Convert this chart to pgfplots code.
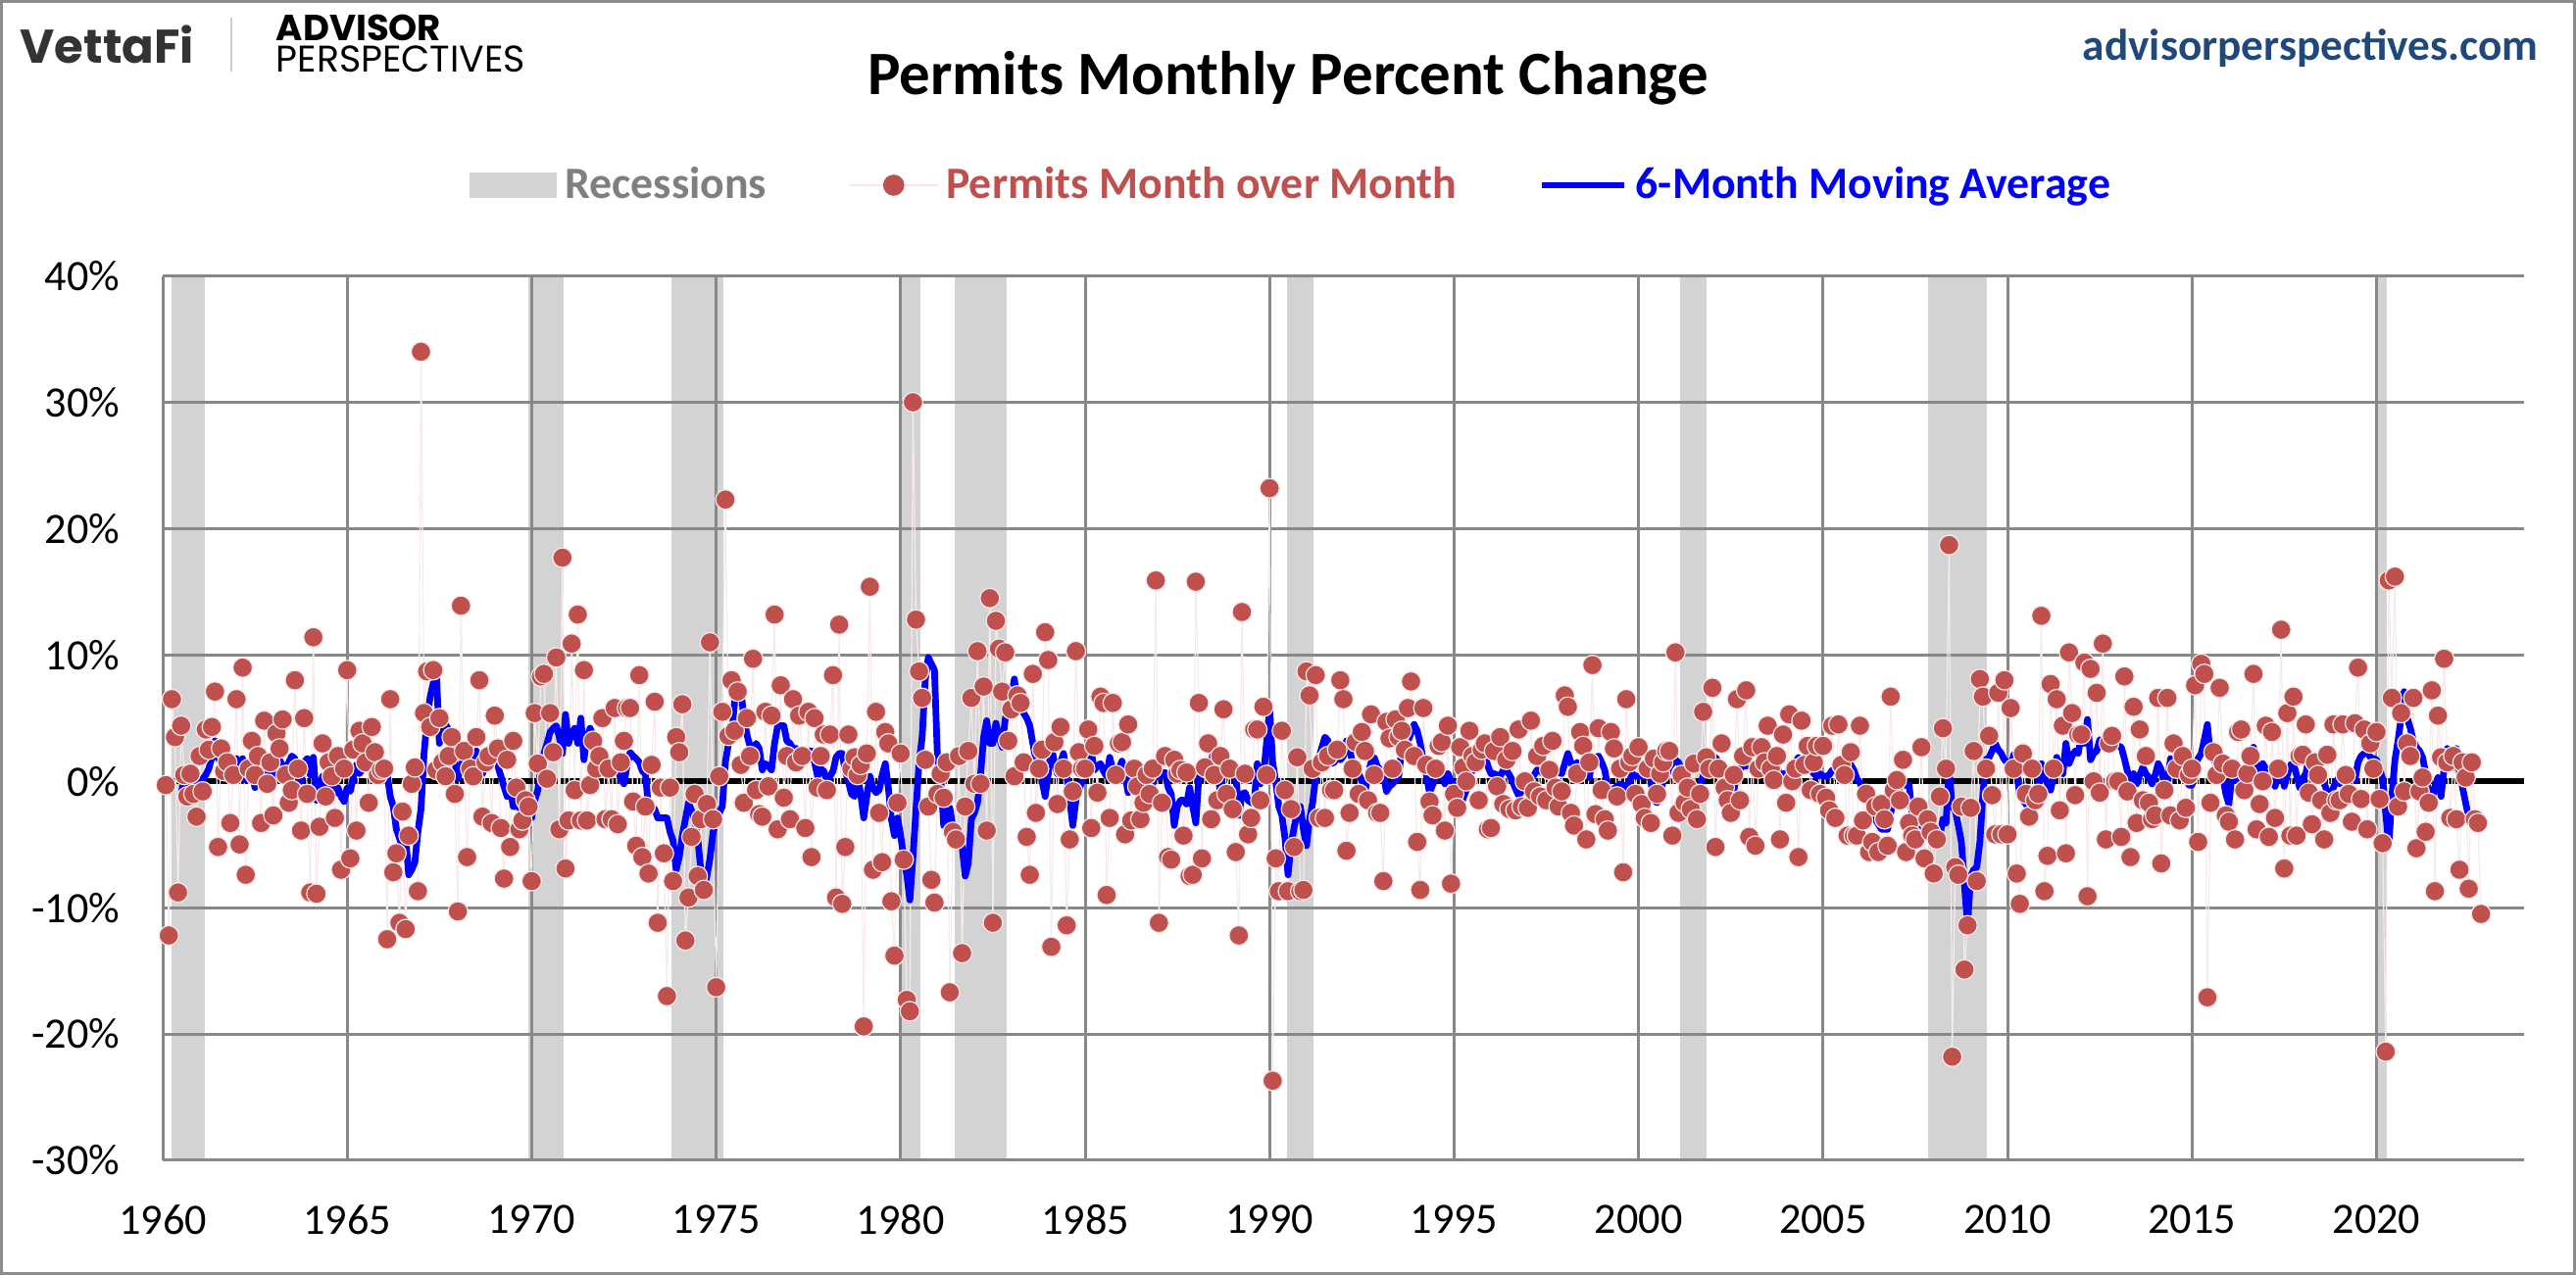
\documentclass[border=0pt]{standalone}
\usepackage{pgfplots}
\pgfplotsset{compat=1.18}
\usepackage{pgfplotstable}
\usepackage{fontspec}
\setmainfont{Carlito}
\newfontfamily\logofont{Poppins}
\usetikzlibrary{calc}

\definecolor{recgray}{HTML}{D3D3D3}
\definecolor{gridgray}{HTML}{888888}
\definecolor{dotred}{HTML}{C0504D}
\definecolor{mablue}{HTML}{0000FF}
\definecolor{urlblue}{HTML}{1F497D}
\definecolor{framegray}{HTML}{8C8C8C}
\definecolor{legray}{HTML}{7F7F7F}
\definecolor{logogray}{HTML}{333333}

% monthly percent change, Feb 1960 - Nov 2022 (one line per year)
\pgfplotstableread[row sep=\\]{
v\\
-0.3\\ -12.2\\ 6.5\\ 3.5\\ -8.8\\ 4.4\\ 0.5\\ -1.2\\ 0.6\\ -1.0\\ -2.8\\
2.0\\ -0.8\\ 4.1\\ 2.5\\ 4.3\\ 7.1\\ -5.2\\ 2.6\\ 0.8\\ 1.5\\ -3.3\\ 0.5\\
6.5\\ -5.0\\ 9.0\\ -7.4\\ 1.0\\ 3.2\\ 0.5\\ 2.0\\ -3.3\\ 4.8\\ -0.2\\ 1.5\\
-2.7\\ 3.8\\ 2.6\\ 4.9\\ 0.5\\ -1.7\\ -0.7\\ 8.0\\ 1.0\\ -3.9\\ 5.0\\ -1.0\\
-8.8\\ 11.4\\ -8.9\\ -3.6\\ 3.0\\ -1.2\\ 1.5\\ 0.4\\ -2.9\\ 2.0\\ -7.0\\ 1.0\\
8.8\\ -6.1\\ 2.5\\ -3.9\\ 4.0\\ 3.0\\ 1.5\\ -1.7\\ 4.3\\ 2.3\\ 0.5\\ 0.9\\
1.0\\ -12.5\\ 6.5\\ -7.2\\ -5.7\\ -11.2\\ -2.4\\ -11.7\\ -4.3\\ -0.2\\ 1.1\\ -8.7\\
34.0\\ 5.4\\ 8.7\\ 4.3\\ 8.8\\ 0.9\\ 5.0\\ 1.5\\ 0.4\\ 2.0\\ 3.5\\ -1.0\\
-10.3\\ 13.9\\ 2.4\\ -6.0\\ 1.0\\ 0.4\\ 3.5\\ 8.0\\ -2.8\\ 1.5\\ 2.0\\ -3.3\\
5.2\\ 2.6\\ -3.7\\ -7.7\\ 1.7\\ -5.2\\ 3.2\\ -0.5\\ -3.8\\ -3.1\\ -1.5\\ -2.0\\
-7.9\\ 5.4\\ 1.4\\ 8.3\\ 8.5\\ 0.2\\ 5.4\\ 2.3\\ 9.8\\ -3.8\\ 17.7\\ -6.9\\
-3.1\\ 10.9\\ -0.7\\ 13.2\\ -3.1\\ 8.8\\ -3.1\\ -0.3\\ 3.2\\ 1.0\\ 2.0\\ 5.0\\
-3.0\\ 1.0\\ -3.0\\ 5.8\\ -3.4\\ 1.5\\ 3.2\\ 5.8\\ 5.8\\ -1.6\\ -5.1\\ 8.4\\
-6.0\\ -2.0\\ -7.3\\ 1.3\\ 6.3\\ -11.2\\ -0.5\\ -5.7\\ -17.0\\ -0.5\\ -7.9\\ 3.5\\
2.3\\ 6.1\\ -12.6\\ -9.2\\ -4.4\\ -1.0\\ -7.5\\ -3.0\\ -8.6\\ -1.8\\ 11.0\\ -3.0\\
-16.3\\ 0.4\\ 5.5\\ 22.3\\ 3.6\\ 8.0\\ 4.0\\ 7.1\\ 1.3\\ -1.7\\ 5.0\\ 2.0\\
9.7\\ -0.7\\ -2.6\\ -2.8\\ 5.5\\ -0.4\\ 5.2\\ 13.2\\ -3.8\\ 7.6\\ -1.3\\ 2.0\\
-3.0\\ 6.5\\ 1.5\\ 5.2\\ 2.0\\ -3.7\\ 5.5\\ -6.0\\ 5.0\\ -0.5\\ 2.0\\ 3.7\\
-0.7\\ 3.7\\ 8.4\\ -9.2\\ 12.4\\ -9.7\\ -5.2\\ 3.7\\ 1.0\\ 1.9\\ 0.5\\ 1.3\\
-19.4\\ 2.2\\ 15.4\\ -7.0\\ 5.5\\ -2.5\\ -6.4\\ 3.9\\ 3.0\\ -9.5\\ -13.8\\ -1.7\\
2.2\\ -6.2\\ -17.3\\ -18.2\\ 30.0\\ 12.8\\ 8.7\\ 6.6\\ 1.7\\ -2.0\\ -7.8\\ -9.6\\
-1.0\\ 0.6\\ -1.3\\ 1.5\\ -16.7\\ -4.0\\ -4.6\\ 2.0\\ -13.6\\ -2.0\\ 2.4\\ 6.6\\
-0.2\\ 10.3\\ -0.2\\ 7.5\\ -3.9\\ 14.5\\ -11.2\\ 12.7\\ 10.5\\ 7.1\\ 10.2\\ 3.2\\
5.7\\ 0.4\\ 6.8\\ 6.2\\ 1.5\\ -4.4\\ -7.4\\ 8.5\\ -2.5\\ 1.0\\ 2.5\\ 11.8\\
9.6\\ -13.1\\ 3.1\\ -1.8\\ 4.3\\ 1.0\\ -11.4\\ -4.6\\ -0.8\\ 10.3\\ 2.3\\ 1.0\\
1.0\\ 4.1\\ -3.7\\ 2.8\\ -0.9\\ 6.7\\ 6.2\\ -9.0\\ -2.9\\ 6.2\\ 0.5\\ 3.0\\
3.1\\ -4.2\\ 4.5\\ -3.1\\ 1.0\\ -0.4\\ -3.0\\ -1.7\\ 0.5\\ -1.0\\ 1.0\\ 15.9\\
-11.2\\ -1.7\\ 2.0\\ -6.0\\ -6.2\\ 1.7\\ 0.6\\ 0.9\\ -4.3\\ 0.7\\ -7.5\\ -7.4\\
15.8\\ 6.2\\ -6.1\\ 1.1\\ 3.0\\ -3.0\\ 0.5\\ -1.5\\ 2.0\\ 5.7\\ -1.0\\ 1.0\\
-2.2\\ -5.6\\ -12.2\\ 13.4\\ 0.6\\ -4.2\\ -2.9\\ 4.1\\ 4.1\\ -1.5\\ 5.9\\ 0.5\\
23.2\\ -23.7\\ -6.1\\ -8.7\\ 4.0\\ -0.7\\ -8.7\\ -2.2\\ -5.2\\ 1.9\\ -8.7\\ -8.6\\
8.7\\ 6.8\\ 1.0\\ 8.4\\ -2.9\\ 1.5\\ -2.9\\ 2.0\\ -0.7\\ -0.7\\ 2.5\\ 8.0\\
6.5\\ -5.5\\ -2.5\\ 1.0\\ 3.1\\ -1.0\\ 3.9\\ 2.4\\ -1.5\\ 5.3\\ 0.5\\ -2.5\\
-2.5\\ -7.9\\ 4.7\\ 3.4\\ 1.0\\ 4.9\\ 3.5\\ 4.0\\ 2.5\\ 5.8\\ 7.9\\ 2.0\\
-4.8\\ -8.6\\ 5.8\\ 1.3\\ -1.6\\ -2.7\\ 1.0\\ 2.8\\ 3.1\\ -3.9\\ 4.4\\ -8.1\\
-1.0\\ -2.1\\ 2.7\\ 1.1\\ 0.0\\ 4.0\\ 2.0\\ 1.5\\ -1.5\\ 2.5\\ 3.0\\ -3.8\\
-3.7\\ 2.4\\ -0.4\\ 3.5\\ -1.8\\ 1.7\\ -2.2\\ 2.4\\ -2.3\\ 4.1\\ -2.0\\ 0.0\\
-2.1\\ 4.8\\ -0.8\\ 2.0\\ -1.2\\ 2.8\\ -1.5\\ 0.9\\ 3.2\\ -0.5\\ -2.0\\ -0.8\\
6.8\\ 5.9\\ -2.5\\ -3.5\\ 0.6\\ 3.9\\ 2.8\\ -4.6\\ 1.5\\ 9.2\\ -2.6\\ 4.2\\
-0.7\\ -3.0\\ -3.9\\ 3.9\\ 2.6\\ -1.2\\ 1.0\\ -7.2\\ 6.5\\ 1.5\\ 2.0\\ -1.0\\
2.7\\ -1.8\\ -2.9\\ 1.0\\ -3.3\\ 1.8\\ -1.0\\ 0.6\\ 1.5\\ 2.4\\ 2.4\\ -4.3\\
10.2\\ -2.5\\ 0.5\\ -1.7\\ -0.5\\ -2.2\\ 1.4\\ -3.0\\ -1.0\\ 5.5\\ 1.9\\ 1.0\\
7.4\\ -5.2\\ 1.0\\ 3.0\\ -0.5\\ -1.5\\ -2.5\\ 0.5\\ 6.5\\ -1.5\\ 2.0\\ 7.2\\
-4.4\\ 2.7\\ -5.1\\ 1.0\\ 2.7\\ 1.5\\ 4.4\\ 1.0\\ 0.1\\ 2.0\\ -4.6\\ 3.7\\
-1.7\\ 5.3\\ 0.0\\ 1.0\\ -6.0\\ 4.8\\ 1.3\\ 2.8\\ -0.7\\ 1.5\\ 2.8\\ -1.0\\
2.8\\ -1.3\\ -2.3\\ 4.4\\ -2.9\\ 4.5\\ 1.3\\ 0.5\\ -4.3\\ 2.3\\ -4.3\\ -4.3\\
4.4\\ -3.1\\ -1.0\\ -5.6\\ -4.8\\ -2.0\\ -5.6\\ -1.8\\ -3.0\\ -5.1\\ 6.7\\ -0.7\\
0.1\\ -1.5\\ 1.7\\ -5.6\\ -3.3\\ -4.3\\ -4.6\\ -2.0\\ 2.7\\ -6.1\\ -3.0\\ -4.0\\
-7.3\\ -4.6\\ -1.2\\ 4.2\\ 1.0\\ 18.7\\ -21.8\\ -6.8\\ -7.4\\ -2.0\\ -14.9\\ -11.4\\
-2.1\\ 2.4\\ -7.9\\ 8.1\\ 6.7\\ 1.0\\ 3.6\\ -1.1\\ -4.2\\ 7.0\\ -4.2\\ 8.0\\
-4.2\\ 5.8\\ 1.0\\ -7.3\\ -9.7\\ 2.2\\ -1.0\\ -2.8\\ 1.0\\ -1.5\\ -1.0\\ 13.1\\
-8.7\\ -5.9\\ 7.7\\ 1.0\\ 6.5\\ -2.3\\ 4.4\\ -5.7\\ 10.2\\ 5.4\\ -1.1\\ 3.7\\
3.7\\ 9.4\\ -9.1\\ 8.9\\ 0.0\\ 7.0\\ -0.9\\ 10.9\\ -4.6\\ 3.0\\ 3.6\\ 0.0\\
0.0\\ -4.4\\ 8.3\\ -0.8\\ -6.0\\ 5.9\\ -3.3\\ 4.1\\ -1.5\\ 2.0\\ -1.7\\ -3.0\\
-2.7\\ 6.6\\ -6.5\\ -0.7\\ 6.6\\ -2.7\\ 3.0\\ 1.0\\ -3.1\\ 2.0\\ -2.1\\ 0.5\\
1.0\\ 7.6\\ -4.8\\ 9.3\\ 8.5\\ -17.1\\ -1.7\\ 2.3\\ 0.5\\ 7.4\\ 1.4\\ -2.7\\
-3.2\\ 1.0\\ -4.6\\ 3.9\\ 4.1\\ -0.7\\ 0.6\\ 2.0\\ 8.5\\ -3.8\\ -1.8\\ 0.0\\
4.4\\ -4.4\\ 3.9\\ -2.9\\ 1.0\\ 12.0\\ -6.9\\ 5.4\\ -4.3\\ 6.7\\ -4.3\\ 2.0\\
2.1\\ 4.5\\ -0.9\\ -3.4\\ 1.5\\ 0.5\\ -1.5\\ -4.6\\ 2.1\\ -2.5\\ 4.5\\ -1.5\\
-1.5\\ 4.5\\ 0.5\\ -1.0\\ -3.2\\ 4.6\\ 9.0\\ -1.4\\ 4.1\\ -3.8\\ 3.0\\ 1.0\\
3.9\\ -1.4\\ -4.9\\ -21.4\\ 15.9\\ 6.6\\ 16.2\\ -2.0\\ 5.4\\ -0.8\\ 3.0\\ 2.0\\
6.6\\ -5.3\\ -0.8\\ 0.3\\ -4.0\\ -1.7\\ 7.2\\ -8.7\\ 5.2\\ 1.9\\ 9.7\\ 1.5\\
-2.9\\ 2.0\\ -3.0\\ -7.0\\ 1.5\\ 0.3\\ -8.5\\ 1.5\\ -3.0\\ -3.3\\ -10.5\\
}\permits

% 6-month moving average, Jul 1960 - Nov 2022
\pgfplotstableread[row sep=\\]{
v\\
-1.2\\ 0.6\\ -0.8\\ 0.5\\ 0.0\\ -0.5\\
-0.3\\ 0.2\\ 0.5\\ 1.0\\ 1.9\\ 3.2\\ 1.8\\ 1.9\\ 2.0\\ 1.7\\ 0.6\\ 1.0\\
1.8\\ 0.6\\ 1.8\\ 0.1\\ 1.3\\ 0.8\\ -0.5\\ 1.0\\ 0.5\\ 1.2\\ 0.8\\ 0.4\\
0.4\\ 0.8\\ 1.7\\ 1.2\\ 1.0\\ 1.5\\ 2.0\\ 1.8\\ 0.5\\ 0.0\\ 1.5\\ 1.8\\
0.5\\ 1.9\\ -1.5\\ -0.4\\ 0.4\\ -1.5\\ -0.2\\ -0.5\\ -1.0\\ -0.5\\ -1.2\\ -1.6\\
-0.5\\ -0.8\\ 0.3\\ 1.3\\ 0.6\\ 1.0\\ 1.8\\ 1.2\\ 1.0\\ 0.6\\ 0.5\\ 0.6\\
0.8\\ 0.6\\ -1.2\\ -2.0\\ -3.8\\ -4.5\\ -5.3\\ -4.3\\ -7.4\\ -7.0\\ -6.4\\ -4.0\\
-2.2\\ 2.2\\ 5.0\\ 6.7\\ 7.8\\ 8.7\\ 3.0\\ 5.3\\ 4.5\\ 4.1\\ 3.2\\ 1.5\\
0.2\\ 1.2\\ 1.9\\ 1.0\\ 0.4\\ 1.5\\ 2.4\\ 1.5\\ 0.6\\ 1.2\\ 1.9\\ 1.5\\
1.7\\ 1.2\\ 0.4\\ -0.4\\ -1.2\\ -0.5\\ -2.0\\ -2.0\\ -2.0\\ -2.7\\ -2.4\\ -2.0\\
-2.9\\ -1.5\\ -0.7\\ 1.0\\ 2.2\\ 3.0\\ 3.9\\ 4.2\\ 4.4\\ 3.5\\ 2.2\\ 5.3\\
3.0\\ 3.8\\ 4.2\\ 3.0\\ 5.0\\ 1.7\\ 3.5\\ 4.2\\ 3.6\\ 1.5\\ 0.9\\ 1.9\\
1.9\\ 1.5\\ 1.4\\ 1.0\\ 0.9\\ 0.2\\ -0.2\\ 1.2\\ 2.3\\ 2.0\\ 1.8\\ 1.5\\
0.8\\ 0.6\\ -2.2\\ -2.2\\ -2.2\\ -2.9\\ -2.9\\ -2.9\\ -2.9\\ -4.0\\ -4.7\\ -7.0\\
-6.0\\ -4.3\\ -3.0\\ -1.7\\ -2.3\\ -3.0\\ -4.5\\ -7.0\\ -8.6\\ -7.5\\ -6.1\\ -4.0\\
-3.3\\ -2.5\\ -2.0\\ 1.5\\ 3.0\\ 3.5\\ 6.3\\ 7.0\\ 7.4\\ 5.0\\ 3.7\\ 2.8\\
2.4\\ 3.0\\ 2.6\\ 0.9\\ 1.4\\ 1.2\\ 0.9\\ 3.0\\ 4.4\\ 4.4\\ 4.4\\ 3.2\\
3.0\\ 2.6\\ 2.6\\ 2.0\\ 1.7\\ 2.0\\ 2.4\\ 2.4\\ 1.5\\ 0.4\\ 1.0\\ 0.8\\
0.0\\ 0.4\\ 0.8\\ 1.9\\ 2.2\\ 2.2\\ 0.8\\ 0.0\\ -1.0\\ -1.2\\ 0.5\\ -1.0\\
-2.9\\ -1.2\\ 0.4\\ -0.5\\ -0.9\\ -0.7\\ 0.5\\ 1.4\\ -0.5\\ -3.0\\ -4.3\\ -2.9\\
-4.3\\ -6.0\\ -7.4\\ -9.4\\ -6.0\\ -2.2\\ 1.5\\ 3.5\\ 8.0\\ 9.8\\ 9.3\\ 8.8\\
1.7\\ 0.4\\ -3.5\\ -3.0\\ -2.1\\ -3.7\\ -4.0\\ -4.3\\ -5.2\\ -7.5\\ -6.5\\ -3.0\\
-2.5\\ -1.7\\ 0.5\\ 3.5\\ 4.8\\ 3.0\\ 3.0\\ 4.6\\ 3.5\\ 2.7\\ 4.9\\ 6.0\\
6.8\\ 8.1\\ 5.8\\ 5.6\\ 5.4\\ 5.0\\ 4.4\\ 3.0\\ 1.7\\ 1.4\\ 0.0\\ -1.2\\
0.6\\ 2.8\\ 1.5\\ 0.6\\ 1.5\\ 2.2\\ 0.5\\ -1.5\\ -3.5\\ -1.5\\ -0.7\\ 0.0\\
0.6\\ 1.5\\ 2.3\\ 0.9\\ 1.2\\ 1.4\\ 0.8\\ 0.4\\ 1.9\\ 0.9\\ 0.0\\ 1.0\\
1.6\\ 0.5\\ -0.9\\ -0.2\\ 1.1\\ 0.0\\ -0.4\\ -0.4\\ -0.9\\ -1.5\\ -0.2\\ 1.1\\
0.3\\ 0.6\\ 0.7\\ -0.5\\ -1.0\\ -3.5\\ -2.0\\ -1.5\\ -1.5\\ -1.8\\ -0.5\\ -2.0\\
-3.3\\ 0.4\\ 0.6\\ 0.6\\ 0.5\\ 1.5\\ 2.7\\ 1.0\\ -0.9\\ 1.2\\ 0.6\\ 0.6\\
0.5\\ 0.4\\ -2.7\\ -1.0\\ -0.9\\ -1.5\\ -1.7\\ -1.7\\ 1.4\\ -0.2\\ 0.4\\ 3.0\\
5.8\\ 1.5\\ 0.0\\ -2.0\\ -2.7\\ -4.5\\ -7.4\\ -5.0\\ -3.6\\ -2.5\\ -2.0\\ -3.8\\
-5.1\\ -3.0\\ -1.7\\ 0.4\\ 1.8\\ 2.7\\ 3.5\\ 3.2\\ 1.4\\ 1.5\\ 1.9\\ 1.7\\
2.0\\ 3.2\\ 2.5\\ 1.5\\ 0.8\\ 0.6\\ 0.0\\ -0.9\\ 0.5\\ 1.5\\ 1.9\\ 1.2\\
0.9\\ 0.6\\ -0.8\\ -0.4\\ -0.2\\ 0.1\\ 0.4\\ 2.7\\ 2.9\\ 3.2\\ 3.8\\ 4.5\\
4.0\\ 3.0\\ 1.6\\ 0.5\\ -0.9\\ -0.3\\ 0.2\\ 1.4\\ 0.5\\ -0.2\\ 0.6\\ 0.0\\
-0.2\\ -1.2\\ -2.2\\ -1.3\\ -0.7\\ 0.3\\ 0.9\\ 2.0\\ 2.4\\ 2.3\\ 2.2\\ 1.2\\
0.6\\ 0.6\\ 0.5\\ 0.4\\ 0.9\\ 0.9\\ 0.5\\ 0.0\\ -0.6\\ -1.1\\ -0.8\\ -0.5\\
-0.5\\ 0.2\\ 0.5\\ 0.9\\ 0.8\\ 0.6\\ 0.6\\ 0.7\\ 0.8\\ 0.9\\ 0.7\\ 0.6\\
1.4\\ 2.2\\ 1.5\\ 0.9\\ 1.5\\ 1.2\\ 0.9\\ 0.6\\ 0.3\\ 1.8\\ 1.9\\ 2.0\\
1.5\\ 0.9\\ -0.5\\ -0.8\\ -0.6\\ -0.4\\ -0.2\\ -0.3\\ -0.7\\ 0.0\\ 0.6\\ 0.4\\
0.4\\ 0.4\\ 0.4\\ 1.1\\ 0.0\\ -1.5\\ -1.7\\ -0.9\\ 0.0\\ 0.3\\ 1.1\\ 1.4\\
1.7\\ 1.5\\ 0.9\\ 0.6\\ 0.4\\ -0.3\\ -0.7\\ -0.7\\ -0.3\\ 0.4\\ 1.1\\ 1.3\\
1.6\\ 1.9\\ 1.5\\ 0.9\\ 0.9\\ 0.5\\ 0.0\\ -0.7\\ 0.6\\ 1.0\\ 1.2\\ 1.2\\
1.4\\ 1.4\\ 0.6\\ 0.5\\ 0.6\\ 1.0\\ 1.4\\ 1.5\\ 1.7\\ 1.2\\ 0.4\\ 0.6\\
0.6\\ 0.6\\ 0.6\\ 1.5\\ 1.9\\ 1.4\\ 1.1\\ 1.0\\ 0.9\\ 0.6\\ 0.4\\ 0.6\\
0.4\\ 0.4\\ 0.5\\ 0.9\\ 0.9\\ 1.0\\ 1.1\\ 1.3\\ 1.7\\ 1.3\\ 0.9\\ 0.2\\
-0.1\\ -0.7\\ -1.2\\ -1.6\\ -2.0\\ -3.0\\ -3.4\\ -3.8\\ -3.8\\ -3.8\\ -2.5\\ -1.4\\
-1.0\\ -0.5\\ -0.3\\ -0.3\\ -0.3\\ -2.7\\ -2.9\\ -3.2\\ -3.6\\ -3.2\\ -3.5\\ -3.8\\
-3.8\\ -4.0\\ -4.3\\ -3.0\\ -3.3\\ 0.9\\ -2.0\\ -2.3\\ -3.5\\ -4.8\\ -8.2\\ -11.5\\
-7.5\\ -7.0\\ -6.8\\ -4.8\\ -1.0\\ 1.7\\ 1.9\\ 2.4\\ 3.0\\ 2.5\\ 2.2\\ 1.7\\
1.5\\ 1.1\\ 2.1\\ 0.9\\ -1.2\\ -1.5\\ -1.8\\ -2.2\\ -3.0\\ -1.8\\ -0.3\\ 1.4\\
0.3\\ -0.2\\ -0.7\\ 0.4\\ 1.9\\ 1.0\\ 0.6\\ 3.0\\ 1.4\\ 2.0\\ 2.4\\ 2.2\\
3.7\\ 3.0\\ 4.9\\ 1.7\\ 2.2\\ 2.4\\ 3.3\\ 3.0\\ 2.6\\ 3.2\\ 3.1\\ 3.0\\
2.8\\ 2.7\\ 1.8\\ 0.8\\ 0.1\\ 0.6\\ -0.2\\ 0.5\\ 1.1\\ 0.6\\ 0.3\\ -0.2\\
0.5\\ 1.4\\ 0.9\\ -0.2\\ -0.2\\ 1.8\\ 0.6\\ 0.4\\ 0.4\\ 1.1\\ 0.5\\ -0.3\\
-0.3\\ 1.3\\ 1.8\\ 2.2\\ 3.3\\ 4.5\\ 2.0\\ 1.7\\ 1.4\\ 0.4\\ 0.4\\ -1.0\\
-1.8\\ 0.5\\ 0.3\\ 0.0\\ -0.4\\ 0.2\\ 0.4\\ 0.5\\ 2.7\\ 1.2\\ 0.6\\ 1.4\\
1.0\\ 0.4\\ 0.0\\ -0.4\\ 0.5\\ 1.5\\ -0.4\\ 0.5\\ 1.3\\ 1.4\\ 0.5\\ -0.5\\
0.2\\ 0.6\\ 1.8\\ 1.2\\ 1.0\\ 0.6\\ 0.2\\ -0.2\\ -0.8\\ -1.5\\ -0.5\\ 0.1\\
-0.2\\ 0.2\\ 0.6\\ 0.6\\ 0.5\\ 0.1\\ 1.5\\ 2.0\\ 2.2\\ 2.3\\ 1.9\\ 1.8\\
1.7\\ 1.0\\ 0.2\\ -2.5\\ -5.1\\ -1.2\\ 1.7\\ 3.2\\ 5.0\\ 7.1\\ 5.0\\ 4.2\\
3.2\\ 2.7\\ 2.4\\ 1.9\\ 0.6\\ -1.0\\ -1.5\\ -0.4\\ 0.3\\ -1.2\\ 1.0\\ 2.6\\
1.5\\ 1.1\\ 2.6\\ 0.6\\ -0.5\\ -1.7\\ -2.9\\ -3.0\\ -3.0\\ -3.2\\ -3.8\\
}\mavg

\begin{document}
\begin{tikzpicture}
\begin{axis}[
  name=ax, set layers,
  scale only axis, width=602.25bp, height=225.6bp,
  xmin=1960, xmax=2024, ymin=-30, ymax=40,
  axis x line*=bottom, axis y line*=left,
  axis line style={gridgray, line width=0.75bp},
  xtick={1960,1965,...,2020},
  xticklabels={1960,1965,1970,1975,1980,1985,1990,1995,2000,2005,2010,2015,2020},
  ytick={-30,-20,...,40},
  yticklabels={-30\%,-20\%,-10\%,0\%,10\%,20\%,30\%,40\%},
  grid=major, major grid style={gridgray, line width=0.75bp},
  major tick length=0pt,
  tick label style={font=\fontsize{11.1}{13}\selectfont, text=black},
  xticklabel style={yshift=-7.9bp},
  yticklabel style={xshift=-7.4bp},
  legend style={at={(0.479,1.1026)}, anchor=center, draw=none, fill=none,
    legend columns=3, font=\bfseries\fontsize{11.5}{13}\selectfont,
    inner sep=0pt, nodes={inner xsep=2bp, inner ysep=0bp},
    /tikz/every even column/.append style={column sep=19bp}},
  legend cell align=left,
]
% recessions
\addplot[on layer=axis background, fill=recgray, draw=none, forget plot] coordinates {(1960.23,-30) (1960.23,40) (1961.13,40) (1961.13,-30)};
\addplot[on layer=axis background, fill=recgray, draw=none, forget plot] coordinates {(1969.92,-30) (1969.92,40) (1970.87,40) (1970.87,-30)};
\addplot[on layer=axis background, fill=recgray, draw=none, forget plot] coordinates {(1973.80,-30) (1973.80,40) (1975.20,40) (1975.20,-30)};
\addplot[on layer=axis background, fill=recgray, draw=none, forget plot] coordinates {(1979.98,-30) (1979.98,40) (1980.54,40) (1980.54,-30)};
\addplot[on layer=axis background, fill=recgray, draw=none, forget plot] coordinates {(1981.46,-30) (1981.46,40) (1982.87,40) (1982.87,-30)};
\addplot[on layer=axis background, fill=recgray, draw=none, forget plot] coordinates {(1990.48,-30) (1990.48,40) (1991.20,40) (1991.20,-30)};
\addplot[on layer=axis background, fill=recgray, draw=none, forget plot] coordinates {(2001.13,-30) (2001.13,40) (2001.85,40) (2001.85,-30)};
\addplot[on layer=axis background, fill=recgray, draw=none, forget plot] coordinates {(2007.85,-30) (2007.85,40) (2009.45,40) (2009.45,-30)};
\addplot[on layer=axis background, fill=recgray, draw=none, forget plot] coordinates {(2020.03,-30) (2020.03,40) (2020.28,40) (2020.28,-30)};
% zero line
\addplot[black, line width=1.5bp, forget plot] coordinates {(1960,0) (2024,0)};
% month over month
\addplot[dotred!12, line width=0.3bp, mark=*, mark size=2.5bp,
  mark options={solid, fill=dotred, draw=none}, forget plot]
  table[x expr=1960+(\coordindex+1)/12, y=v] {\permits};
% moving average
\addplot[mablue, line width=1.7bp, line join=round, forget plot]
  table[x expr=1960+(\coordindex+6)/12, y=v] {\mavg};

\addlegendimage{legend image code/.code={\fill[recgray] (0bp,-3bp) rectangle (22bp,3bp);}}
\addlegendentry[text=legray]{Recessions}
\addlegendimage{legend image code/.code={\draw[dotred!15, line width=0.3bp] (0bp,0bp) -- (22.5bp,0bp); \fill[dotred] (11.25bp,0bp) circle (2.5bp);}}
\addlegendentry[text=dotred]{Permits Month over Month}
\addlegendimage{legend image code/.code={\draw[mablue, line width=1.7bp] (0bp,0bp) -- (21bp,0bp);}}
\addlegendentry[text=mablue]{6-Month Moving Average}
\end{axis}

\node[anchor=base, inner sep=0pt, font=\bfseries\fontsize{15.8}{19}\selectfont]
  at ($(ax.north west)+(287bp,46.15bp)$) {Permits Monthly Percent Change};
\node[anchor=base east, inner sep=0pt, text=urlblue, font=\bfseries\fontsize{11.35}{13}\selectfont]
  at ($(ax.north west)+(606bp,54.9bp)$) {advisorperspectives.com};
\node[anchor=base west, inner sep=0pt, text=logogray, font=\logofont\bfseries\fontsize{12.1}{13}\selectfont]
  at ($(ax.north west)+(-36.5bp,54.15bp)$) {VettaFi};
\draw[gray!40, line width=0.3bp] ($(ax.north west)+(17.5bp,52.15bp)$) -- ++(0,13.75bp);
\node[anchor=base west, inner sep=0pt, text=black, font=\logofont\bfseries\fontsize{9.3}{10}\selectfont]
  at ($(ax.north west)+(28.75bp,60.1bp)$) {ADVISOR};
\node[anchor=base west, inner sep=0pt, text=black, font=\logofont\fontsize{9.5}{10}\selectfont]
  at ($(ax.north west)+(28.75bp,51.9bp)$) {PERSPECTIVES};

\pgfresetboundingbox
\path[use as bounding box] ($(ax.south west)+(-41.5bp,-29.25bp)$) rectangle ($(ax.north east)+(13.25bp,70.4bp)$);
\draw[framegray, line width=0.8bp] ($(ax.south west)+(-41.1bp,-28.85bp)$) rectangle ($(ax.north east)+(12.85bp,70bp)$);
\end{tikzpicture}
\end{document}
